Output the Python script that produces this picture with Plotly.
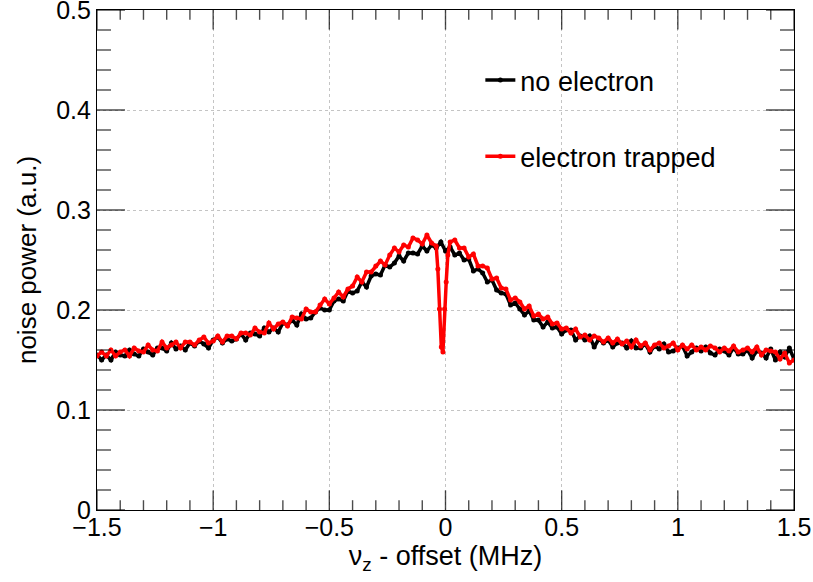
import plotly.graph_objects as go

# Frequency bins (MHz, relative to the axial offset)
freq = [
    -1.50, -1.48, -1.46, -1.44, -1.42, -1.40, -1.38, -1.36, -1.34, -1.32,
    -1.30, -1.28, -1.26, -1.24, -1.22, -1.20, -1.18, -1.16, -1.14, -1.12,
    -1.10, -1.08, -1.06, -1.04, -1.02, -1.00, -0.98, -0.96, -0.94, -0.92,
    -0.90, -0.88, -0.86, -0.84, -0.82, -0.80, -0.78, -0.76, -0.74, -0.72,
    -0.70, -0.68, -0.66, -0.64, -0.62, -0.60, -0.58, -0.56, -0.54, -0.52,
    -0.50, -0.48, -0.46, -0.44, -0.42, -0.40, -0.38, -0.36, -0.34, -0.32,
    -0.30, -0.28, -0.26, -0.24, -0.22, -0.20, -0.18, -0.16, -0.14, -0.12,
    -0.10, -0.08, -0.06, -0.04, -0.02, 0.00, 0.02, 0.04, 0.06, 0.08,
    0.10, 0.12, 0.14, 0.16, 0.18, 0.20, 0.22, 0.24, 0.26, 0.28,
    0.30, 0.32, 0.34, 0.36, 0.38, 0.40, 0.42, 0.44, 0.46, 0.48,
    0.50, 0.52, 0.54, 0.56, 0.58, 0.60, 0.62, 0.64, 0.66, 0.68,
    0.70, 0.72, 0.74, 0.76, 0.78, 0.80, 0.82, 0.84, 0.86, 0.88,
    0.90, 0.92, 0.94, 0.96, 0.98, 1.00, 1.02, 1.04, 1.06, 1.08,
    1.10, 1.12, 1.14, 1.16, 1.18, 1.20, 1.22, 1.24, 1.26, 1.28,
    1.30, 1.32, 1.34, 1.36, 1.38, 1.40, 1.42, 1.44, 1.46, 1.48,
    1.50,
]

# Noise power without a trapped electron
power_empty = [
    0.155, 0.150, 0.155, 0.150, 0.158, 0.155, 0.154, 0.160, 0.156, 0.154,
    0.161, 0.158, 0.155, 0.162, 0.162, 0.159, 0.167, 0.161, 0.164, 0.160,
    0.167, 0.164, 0.169, 0.166, 0.162, 0.170, 0.173, 0.167, 0.171, 0.169,
    0.171, 0.176, 0.170, 0.177, 0.176, 0.174, 0.182, 0.178, 0.182, 0.178,
    0.187, 0.185, 0.190, 0.185, 0.196, 0.191, 0.192, 0.198, 0.202, 0.200,
    0.200, 0.209, 0.211, 0.209, 0.219, 0.217, 0.219, 0.228, 0.223, 0.234,
    0.236, 0.235, 0.245, 0.243, 0.247, 0.254, 0.249, 0.257, 0.257, 0.256,
    0.264, 0.259, 0.265, 0.262, 0.268, 0.259, 0.263, 0.255, 0.257, 0.250,
    0.251, 0.239, 0.241, 0.237, 0.228, 0.230, 0.220, 0.217, 0.216, 0.205,
    0.207, 0.201, 0.195, 0.199, 0.190, 0.190, 0.183, 0.188, 0.182, 0.183,
    0.176, 0.180, 0.180, 0.170, 0.174, 0.170, 0.174, 0.163, 0.171, 0.167,
    0.170, 0.163, 0.167, 0.167, 0.162, 0.169, 0.162, 0.162, 0.166, 0.158,
    0.164, 0.161, 0.166, 0.158, 0.159, 0.162, 0.164, 0.154, 0.158, 0.162,
    0.159, 0.163, 0.157, 0.155, 0.161, 0.159, 0.155, 0.162, 0.156, 0.156,
    0.160, 0.152, 0.159, 0.157, 0.152, 0.161, 0.150, 0.158, 0.153, 0.162,
    0.151,
]

# Extra bins sampled across the electron dip
dip_freq = [-0.040, -0.033, -0.026, -0.018, -0.011, -0.004, 0.003, 0.010, 0.020]
freq_trapped = freq[:73] + dip_freq + freq[77:]

# Noise power with one electron trapped
power_trapped = [
    0.154, 0.158, 0.154, 0.160, 0.154, 0.158, 0.160, 0.154, 0.162, 0.159,
    0.158, 0.165, 0.160, 0.159, 0.168, 0.162, 0.165, 0.168, 0.162, 0.168,
    0.168, 0.165, 0.170, 0.173, 0.167, 0.169, 0.174, 0.168, 0.174, 0.174,
    0.171, 0.177, 0.177, 0.175, 0.182, 0.178, 0.177, 0.187, 0.181, 0.186,
    0.188, 0.184, 0.193, 0.192, 0.191, 0.201, 0.198, 0.198, 0.205, 0.211,
    0.206, 0.212, 0.218, 0.213, 0.221, 0.224, 0.233, 0.228, 0.238, 0.238,
    0.244, 0.249, 0.245, 0.255, 0.262, 0.258, 0.265, 0.263, 0.272, 0.270,
    0.266, 0.275, 0.267,
    0.264, 0.241, 0.201, 0.163, 0.158, 0.201, 0.228, 0.255, 0.268,
    0.270, 0.262, 0.262, 0.253, 0.256, 0.244, 0.244, 0.242, 0.231, 0.232,
    0.222, 0.221, 0.210, 0.212, 0.208, 0.201, 0.204, 0.194, 0.196, 0.191,
    0.193, 0.186, 0.187, 0.181,
    0.182, 0.177, 0.181, 0.173, 0.175, 0.170, 0.174, 0.172, 0.168, 0.172,
    0.167, 0.171, 0.166, 0.169, 0.163, 0.170, 0.164, 0.167, 0.160, 0.165,
    0.167, 0.162, 0.164, 0.167, 0.160, 0.165, 0.161, 0.165, 0.160, 0.163,
    0.160, 0.164, 0.162, 0.158, 0.162, 0.159, 0.164, 0.158, 0.160, 0.162,
    0.158, 0.163, 0.155, 0.160, 0.159,
    0.158, 0.151, 0.157, 0.147, 0.150,
]

X_RANGE = [-1.5, 1.5]
Y_RANGE = [0.0, 0.5]
FONT = "Liberation Sans, Arial, Helvetica, sans-serif"

fig = go.Figure()
fig.add_trace(go.Scatter(
    x=freq, y=power_empty, name="no electron", mode="lines+markers",
    line=dict(color="black", width=3.5),
    marker=dict(color="black", size=5, symbol="circle"),
    legendgroup="a",
))
fig.add_trace(go.Scatter(
    x=freq_trapped, y=power_trapped, name="electron trapped", mode="lines+markers",
    line=dict(color="#ff0000", width=3.5),
    marker=dict(color="#ff0000", size=5, symbol="circle"),
    legendgroup="b",
))

# Inward frame ticks on all four sides: line-shaped markers centred on the
# frame edge, the outer half clipped away by the plot area.
x_tick_pos = [round(X_RANGE[0] + 0.1 * i, 2) for i in range(31)]
x_tick_len = [28 if i % 5 == 0 else 14 for i in range(31)]
y_tick_pos = [round(Y_RANGE[0] + 0.02 * i, 3) for i in range(26)]
y_tick_len = [40 if i % 5 == 0 else 20 for i in range(26)]

for edge in Y_RANGE:
    fig.add_trace(go.Scatter(
        x=x_tick_pos, y=[edge] * len(x_tick_pos), mode="markers",
        marker=dict(symbol="line-ns-open", size=x_tick_len, color="black",
                    line=dict(color="black", width=1.4)),
        showlegend=False, hoverinfo="skip", cliponaxis=True,
    ))
for edge in X_RANGE:
    fig.add_trace(go.Scatter(
        x=[edge] * len(y_tick_pos), y=y_tick_pos, mode="markers",
        marker=dict(symbol="line-ew-open", size=y_tick_len, color="black",
                    line=dict(color="black", width=1.4)),
        showlegend=False, hoverinfo="skip", cliponaxis=True,
    ))

axis_common = dict(
    showline=True, linecolor="black", linewidth=1.2, mirror=True,
    ticks="", showgrid=True, gridcolor="#c4c4c4", griddash="dot", gridwidth=1,
    zeroline=False, automargin=False, ticklabeloverflow="allow",
    tickfont=dict(family=FONT, size=25, color="black"),
)

fig.update_xaxes(
    range=X_RANGE, tickmode="linear", tick0=-1.5, dtick=0.5, ticklabelstandoff=-5,
    title=dict(text="\u03bd<sub>z</sub> - offset (MHz)", font=dict(family=FONT, size=27, color="black"), standoff=4),
    **axis_common,
)
fig.update_yaxes(
    range=Y_RANGE, tickmode="linear", tick0=0, dtick=0.1,
    title=dict(text="noise power (a.u.)", font=dict(family=FONT, size=26, color="black"), standoff=12),
    **axis_common,
)

fig.update_layout(
    width=813, height=582,
    margin=dict(l=97, r=19, t=10, b=72),
    paper_bgcolor="white", plot_bgcolor="white",
    showlegend=True,
    legend=dict(
        x=0.550, y=0.908, xanchor="left", yanchor="top",
        bgcolor="rgba(0,0,0,0)", borderwidth=0,
        font=dict(family=FONT, size=27, color="black"),
        tracegroupgap=38,
    ),
)

fig.write_html("out.html")
